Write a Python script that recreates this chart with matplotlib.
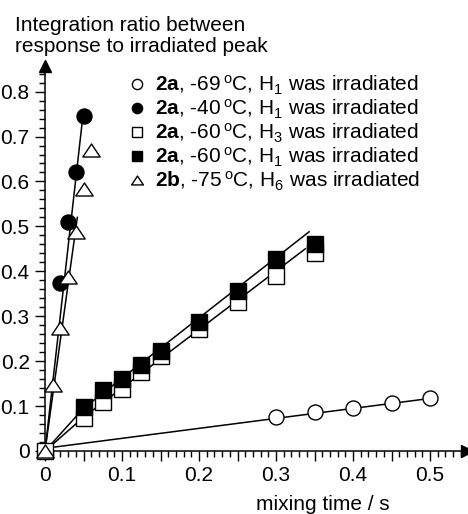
import numpy as np
import matplotlib
matplotlib.use('Agg')
import matplotlib.pyplot as plt
from matplotlib.ticker import MultipleLocator, FuncFormatter
from matplotlib.path import Path

plt.rcParams['font.family'] = ['Liberation Sans', 'DejaVu Sans']
plt.rcParams['mathtext.fontset'] = 'custom'
plt.rcParams['mathtext.rm'] = 'Liberation Sans'
plt.rcParams['mathtext.bf'] = 'Liberation Sans:bold'
plt.rcParams['mathtext.it'] = 'Liberation Sans:italic'

## data ##
x_c69 = [0.30, 0.35, 0.40, 0.45, 0.50]
y_c69 = [0.076, 0.087, 0.096, 0.107, 0.118]

x_c40 = [0.02, 0.03, 0.04, 0.05]
y_c40 = [0.374, 0.51, 0.621, 0.746]

x_s60_h3 = [0, 0.05, 0.075, 0.10, 0.125, 0.15, 0.20, 0.25, 0.30, 0.35]
y_s60_h3 = [0, 0.073, 0.109, 0.138, 0.176, 0.212, 0.272, 0.332, 0.390, 0.441]

x_s60_h1 = [0.05, 0.075, 0.10, 0.125, 0.15, 0.20, 0.25, 0.30, 0.35]
y_s60_h1 = [0.098, 0.136, 0.160, 0.191, 0.223, 0.287, 0.356, 0.428, 0.461]

x_t75 = [0, 0.01, 0.02, 0.03, 0.04, 0.05, 0.06]
y_t75 = [0, 0.147, 0.274, 0.388, 0.488, 0.583, 0.670]

# fitted lines (as drawn in the figure)
fx_c69 = [0, 0.50]
fy_c69 = [0.006, 0.117]
fx_c40 = [0, 0.0495]
fy_c40 = [0, 0.75]
fx_s60_h3 = [0, 0.05, 0.338]
fy_s60_h3 = [0, 0.075, 0.45]
fx_s60_h1 = [0, 0.05, 0.343]
fy_s60_h1 = [0, 0.095, 0.488]
fx_t75 = [0, 0.042]
fy_t75 = [0, 0.52]

labels = [r'$\mathbf{2a}$, -69$\,^{\mathrm{o}}$C, H$_1$ was irradiated',
          r'$\mathbf{2a}$, -40$\,^{\mathrm{o}}$C, H$_1$ was irradiated',
          r'$\mathbf{2a}$, -60$\,^{\mathrm{o}}$C, H$_3$ was irradiated',
          r'$\mathbf{2a}$, -60$\,^{\mathrm{o}}$C, H$_1$ was irradiated',
          r'$\mathbf{2b}$, -75$\,^{\mathrm{o}}$C, H$_6$ was irradiated']

W, H = 468, 514
fig = plt.figure(figsize=(W/100, H/100), dpi=100)
ax = fig.add_axes([45/W, 63/H, (467-45)/W, (451-66)/H])

# flat triangle, closed
tri = Path([(0, 0.75), (-1, -0.75), (1, -0.75), (0, 0.75)],
           [Path.MOVETO, Path.LINETO, Path.LINETO, Path.CLOSEPOLY])
mk = dict(mec='k', mew=1.0, clip_on=False, ls='none')

# lines
for fx, fy in [(fx_c69, fy_c69), (fx_c40, fy_c40), (fx_s60_h3, fy_s60_h3),
               (fx_s60_h1, fy_s60_h1), (fx_t75, fy_t75)]:
    ax.plot(fx, fy, '-', color='k', lw=1.1, zorder=2, clip_on=False)

h1, = ax.plot(x_c69, y_c69, marker='o', ms=10.8, mfc='w', zorder=3, **mk)
h2, = ax.plot(x_c40, y_c40, marker='o', ms=10.8, mfc='k', zorder=3, **mk)
h3, = ax.plot(x_s60_h3, y_s60_h3, marker='s', ms=11.5, mfc='w', zorder=3, **mk)
h4, = ax.plot(x_s60_h1, y_s60_h1, marker='s', ms=11.5, mfc='k', zorder=4, **mk)
h5, = ax.plot(x_t75, y_t75, marker=tri, ms=12.5, mfc='w', zorder=5, **mk)

ax.set_xlim(0, 0.548)
ax.set_ylim(0, 0.857)
for s in ['top', 'right']:
    ax.spines[s].set_visible(False)
for s in ['left', 'bottom']:
    ax.spines[s].set_linewidth(1.1)

ax.xaxis.set_major_locator(MultipleLocator(0.05))
ax.xaxis.set_minor_locator(MultipleLocator(0.01))
ax.xaxis.set_major_formatter(FuncFormatter(
    lambda v, p: ('0' if abs(v) < 1e-9 else '%.1f' % v) if abs(v*10 - round(v*10)) < 1e-6 else ''))
ax.yaxis.set_major_locator(MultipleLocator(0.1))
ax.yaxis.set_minor_locator(MultipleLocator(0.02))
ax.yaxis.set_major_formatter(FuncFormatter(
    lambda v, p: '0' if abs(v) < 1e-9 else '%.1f' % v))
ax.tick_params(which='major', length=7, width=1, labelsize=15, pad=4)
ax.tick_params(which='minor', length=4, width=1)

# arrow heads on axes
ax.plot(1, 0, '>', color='k', ms=8, transform=ax.transAxes, clip_on=False)
ax.plot(0, 1, '^', color='k', ms=8, transform=ax.transAxes, clip_on=False)

leg = ax.legend([h1, h2, h3, h4, h5], labels, loc='upper left',
                bbox_to_anchor=(128/W, 1 - 74/H), bbox_transform=fig.transFigure,
                frameon=False, fontsize=15, markerscale=0.68, handlelength=0.9,
                handletextpad=0.4, labelspacing=0.03, borderpad=0, borderaxespad=0)

fig.text(15/W, 1 - 16/H, 'Integration ratio between\nresponse to irradiated peak',
         ha='left', va='top', fontsize=15, linespacing=1.1)
fig.text(323/W, 1 - 505/H, 'mixing time / s', ha='center', va='center', fontsize=15)

fig.savefig('out.png', dpi=100)
